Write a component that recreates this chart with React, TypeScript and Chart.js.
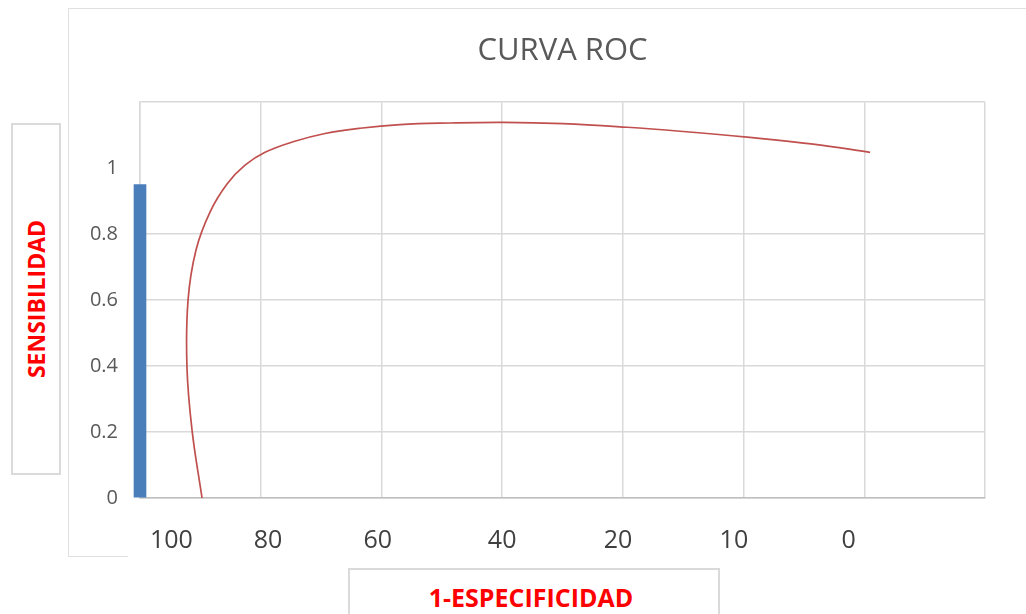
import React, { useEffect, useRef } from "react";
import { Chart, registerables } from "chart.js";

Chart.register(...registerables);

// x axis: gridlines at category positions 0..7; labels as printed under the plot
const xGridPositions = [0, 1, 2, 3, 4, 5, 6, 7];
const xLabels = ["100", "80", "60", "40", "20", "10", "0"];
const xLabelPositions = [0.26, 1.06, 1.97, 3.0, 3.96, 4.92, 5.87];
const yTickValues = [0, 0.2, 0.4, 0.6, 0.8, 1, 1.2];

// blue bar at first category
const barX = [0];
const barY = [0.95];

// smoothed ROC curve (in category-index units on x)
const rocX = [0.514, 0.431, 0.389, 0.398, 0.464, 0.58, 0.721, 0.87, 1.036, 1.268, 1.533, 1.823, 2.154, 2.568, 3.007, 3.505, 4.035, 4.474, 5.029, 5.576, 6.048];
const rocY = [0, 0.206, 0.397, 0.6, 0.752, 0.867, 0.952, 1.009, 1.048, 1.08, 1.105, 1.121, 1.132, 1.137, 1.139, 1.135, 1.124, 1.112, 1.094, 1.073, 1.048];

const FONT = "'Open Sans', 'DejaVu Sans', sans-serif";

export default function App() {
  const canvasRef = useRef<HTMLCanvasElement | null>(null);

  useEffect(() => {
    if (!canvasRef.current) return;
    const chart = new Chart(canvasRef.current, {
      type: "bar",
      data: {
        datasets: [
          {
            type: "line",
            label: "ROC",
            data: rocX.map((x, i) => ({ x, y: rocY[i] })),
            borderColor: "#c0504d",
            borderWidth: 1.7,
            pointRadius: 0,
            tension: 0.4,
            fill: false,
            order: 0,
          } as any,
          {
            type: "bar",
            label: "Sensibilidad",
            data: barX.map((x, i) => ({ x, y: barY[i] })),
            backgroundColor: "#4a7ebb",
            borderWidth: 0,
            barThickness: 12,
            clip: false,
            order: 1,
          } as any,
        ],
      },
      options: {
        responsive: false,
        animation: false,
        layout: { padding: { left: 0, right: 41, top: 0, bottom: 0 } },
        plugins: {
          legend: { display: false },
          tooltip: { enabled: false },
          title: {
            display: true,
            text: "CURVA ROC",
            fullSize: false,
            color: "#595959",
            font: { family: FONT, size: 31, weight: "normal", lineHeight: 1.2 },
            padding: { top: 33, bottom: 32 },
          },
        },
        scales: {
          x: {
            type: "linear",
            position: "bottom",
            weight: 0,
            min: 0,
            max: 7,
            offset: false,
            afterBuildTicks: (scale: any) => {
              scale.ticks = xGridPositions.map((v) => ({ value: v }));
            },
            afterFit: (scale: any) => {
              scale.height = 0;
            },
            ticks: { display: false },
            grid: {
              offset: false,
              color: "#d9d9d9",
              lineWidth: 1.5,
              drawTicks: false,
            },
            border: { color: "#bfbfbf", width: 1.5 },
          },
          xl: {
            type: "linear",
            position: "bottom",
            weight: 1,
            min: 0,
            max: 7,
            offset: false,
            afterBuildTicks: (scale: any) => {
              scale.ticks = xLabelPositions.map((v) => ({ value: v }));
            },
            afterFit: (scale: any) => {
              scale.height = 116;
            },
            ticks: {
              autoSkip: false,
              maxRotation: 0,
              padding: 28,
              color: "#404040",
              font: { family: FONT, size: 25 },
              callback: (_v: any, i: number) => xLabels[i],
            },
            grid: { display: false, drawTicks: false },
            border: { display: false },
          },
          y: {
            type: "linear",
            min: 0,
            max: 1.2,
            afterBuildTicks: (scale: any) => {
              scale.ticks = yTickValues.map((v) => ({ value: v }));
            },
            afterFit: (scale: any) => {
              scale.width = 140;
            },
            ticks: {
              padding: 22,
              color: "#595959",
              font: { family: FONT, size: 20 },
              callback: (v: any) => (v > 1.0001 ? "" : String(Math.round(v * 10) / 10)),
            },
            grid: {
              color: (ctx: any) => (ctx.tick && Math.abs(ctx.tick.value - 1) < 1e-6 ? "rgba(0,0,0,0)" : "#d9d9d9"),
              lineWidth: 1.5,
              drawTicks: false,
            },
            border: { color: "#d9d9d9", width: 1.5 },
          },
        },
      } as any,
    });
    return () => chart.destroy();
  }, []);

  return (
    <div
      style={{
        position: "absolute",
        left: 0,
        top: 0,
        width: 1026,
        height: 614,
        overflow: "hidden",
        background: "#ffffff",
      }}
    >
      {/* outer chart frame */}
      <div
        style={{
          position: "absolute",
          left: 68,
          top: 8,
          width: 1100,
          height: 548,
          borderTop: "1.5px solid #e0e0e0",
          borderLeft: "1.5px solid #e0e0e0",
        }}
      />
      <div
        style={{
          position: "absolute",
          left: 68,
          top: 556,
          width: 60,
          height: 0,
          borderTop: "1.5px solid #e0e0e0",
        }}
      />
      {/* y axis title box */}
      <div
        style={{
          position: "absolute",
          left: 11,
          top: 123,
          width: 46,
          height: 348,
          border: "2px solid #dadada",
          boxSizing: "content-box",
        }}
      >
        <div
          style={{
            position: "absolute",
            left: "50%",
            top: "50%",
            transform: "translate(-50%, -50%) rotate(-90deg)",
            whiteSpace: "nowrap",
            color: "#ff0000",
            fontFamily: FONT,
            fontWeight: 700,
            fontSize: 23,
            lineHeight: "28px",
          }}
        >
          SENSIBILIDAD
        </div>
      </div>
      {/* x axis title box */}
      <div
        style={{
          position: "absolute",
          left: 348,
          top: 568,
          width: 368,
          height: 60,
          border: "2px solid #dadada",
        }}
      >
        <div
          style={{
            position: "absolute",
            left: 0,
            right: 0,
            top: 10,
            textAlign: "center",
            whiteSpace: "nowrap",
            color: "#ff0000",
            fontFamily: FONT,
            fontWeight: 700,
            fontSize: 25,
            lineHeight: "34px",
            paddingRight: 6,
          }}
        >
          1-ESPECIFICIDAD
        </div>
      </div>
      <canvas
        ref={canvasRef}
        width={1026}
        height={614}
        style={{ position: "absolute", left: 0, top: 0, width: 1026, height: 614, display: "block" }}
      />
    </div>
  );
}
